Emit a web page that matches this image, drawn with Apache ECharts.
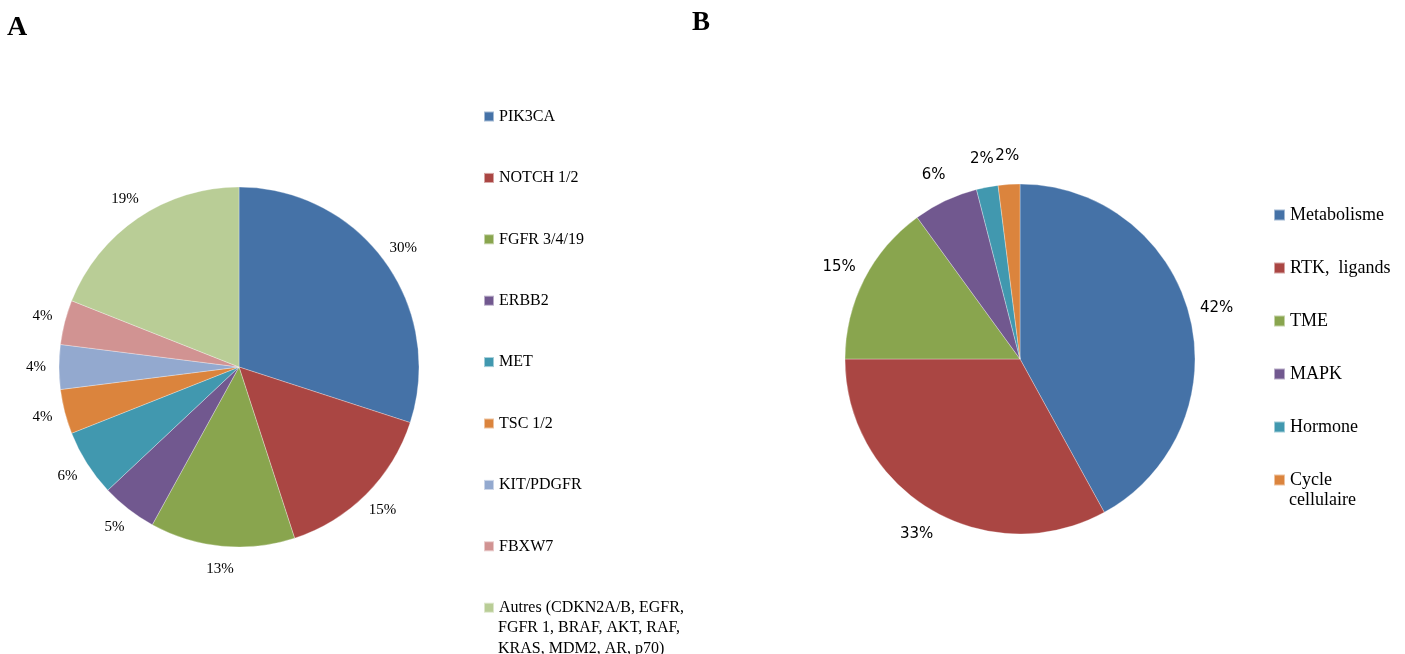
<!DOCTYPE html>
<html>
<head>
<meta charset="utf-8">
<script src="https://cdn.jsdelivr.net/npm/echarts@6/dist/echarts.min.js"></script>
<style>
html,body{margin:0;padding:0;background:#fff;}
#chart{width:1405px;height:654px;}
</style>
</head>
<body>
<div id="chart"></div>
<script>
// ---- Data ----
const categoriesA = ['PIK3CA', 'NOTCH 1/2', 'FGFR 3/4/19', 'ERBB2', 'MET', 'TSC 1/2', 'KIT/PDGFR', 'FBXW7',
  'Autres (CDKN2A/B, EGFR,\nFGFR 1, BRAF, AKT, RAF,\nKRAS, MDM2, AR, p70)'];
const valuesA = [30, 15, 13, 5, 6, 4, 4, 4, 19];
const categoriesB = ['Metabolisme', 'RTK,  ligands', 'TME', 'MAPK', 'Hormone', 'Cycle\ncellulaire'];
const valuesB = [42, 33, 15, 6, 2, 2];
const colorsA = ['#4572A7', '#AA4643', '#89A54E', '#71588F', '#4198AF', '#DB843D', '#93A9CF', '#D19392', '#B9CD96'];
const colorsB = ['#4572A7', '#AA4643', '#89A54E', '#71588F', '#4198AF', '#DB843D'];

function toData(names, vals, colors) {
  return names.map((n, i) => ({ name: n, value: vals[i], itemStyle: { color: colors[i] } }));
}
function firstLine(n) { return n.split('\n')[0]; }
function restLines(n) { return n.split('\n').slice(1).join('\n'); }

const chart = echarts.init(document.getElementById('chart'), null, { renderer: 'canvas' });

const serif = '"Liberation Serif", "Times New Roman", serif';

const option = {
  animation: false,
  backgroundColor: '#fff',
  title: [
    { text: 'A', left: 7, top: 14, padding: 0,
      textStyle: { fontFamily: serif, fontWeight: 'bold', fontSize: 28, color: '#000' } },
    { text: 'B', left: 692, top: 10, padding: 0,
      textStyle: { fontFamily: serif, fontWeight: 'bold', fontSize: 27, color: '#000' } },
    // continuation lines of the multi-line legend entries
    { text: restLines(categoriesA[categoriesA.length - 1]), left: 498, top: 617, padding: 0,
      textStyle: { fontFamily: serif, fontWeight: 'normal', fontSize: 16, lineHeight: 21, color: '#000' } },
    { text: restLines(categoriesB[categoriesB.length - 1]), left: 1289, top: 490, padding: 0,
      textStyle: { fontFamily: serif, fontWeight: 'normal', fontSize: 18, lineHeight: 20, color: '#000' } }
  ],
  legend: [
    {
      orient: 'vertical', left: 483, top: 106, padding: 0, height: 2000,
      itemWidth: 10, itemHeight: 10, itemGap: 40.4,
      icon: 'rect',
      data: categoriesA,
      formatter: firstLine,
      textStyle: { fontFamily: serif, fontSize: 16, color: '#000', lineHeight: 21 }
    },
    {
      orient: 'vertical', left: 1273, top: 205, padding: 0, height: 2000,
      itemWidth: 11, itemHeight: 11, itemGap: 33,
      icon: 'rect',
      data: categoriesB,
      formatter: firstLine,
      textStyle: { fontFamily: serif, fontSize: 18, color: '#000', lineHeight: 20 }
    }
  ],
  series: [
    {
      name: 'A', type: 'pie', center: [239, 367], radius: [0, 180],
      startAngle: 90, clockwise: true, avoidLabelOverlap: false,
      data: toData(categoriesA, valuesA, colorsA),
      itemStyle: { borderColor: 'rgba(255,255,255,0.5)', borderWidth: 0.6 },
      label: { show: false }, labelLine: { show: false },
      emphasis: { disabled: true }
    },
    {
      name: 'B', type: 'pie', center: [1020, 359], radius: [0, 175],
      startAngle: 90, clockwise: true, avoidLabelOverlap: false,
      data: toData(categoriesB, valuesB, colorsB),
      itemStyle: { borderColor: 'rgba(255,255,255,0.5)', borderWidth: 0.6 },
      label: { show: false }, labelLine: { show: false },
      emphasis: { disabled: true }
    },
    {
      name: 'A labels', type: 'pie', center: [239, 367], radius: [180, 220],
      startAngle: 90, clockwise: true, silent: true, avoidLabelOverlap: false,
      data: categoriesA.map((n, i) => ({ name: n, value: valuesA[i] })),
      itemStyle: { color: 'rgba(0,0,0,0)' },
      label: { show: true, position: 'inside', formatter: p => p.value + '%',
        fontFamily: serif, fontSize: 15, color: '#000', textBorderWidth: 0 },
      labelLayout: { hideOverlap: false },
      labelLine: { show: false },
      emphasis: { disabled: true }
    },
    {
      name: 'B labels', type: 'pie', center: [1020, 359], radius: [175, 225],
      startAngle: 90, clockwise: true, silent: true, avoidLabelOverlap: false,
      data: categoriesB.map((n, i) => ({ name: n, value: valuesB[i] })),
      itemStyle: { color: 'rgba(0,0,0,0)' },
      label: { show: true, position: 'inside', formatter: p => p.value + '%',
        fontFamily: '"DejaVu Sans", sans-serif', fontSize: 15, color: '#000', textBorderWidth: 0 },
      labelLayout: { hideOverlap: false },
      labelLine: { show: false },
      emphasis: { disabled: true }
    }
  ]
};
chart.setOption(option);
</script>
</body>
</html>
